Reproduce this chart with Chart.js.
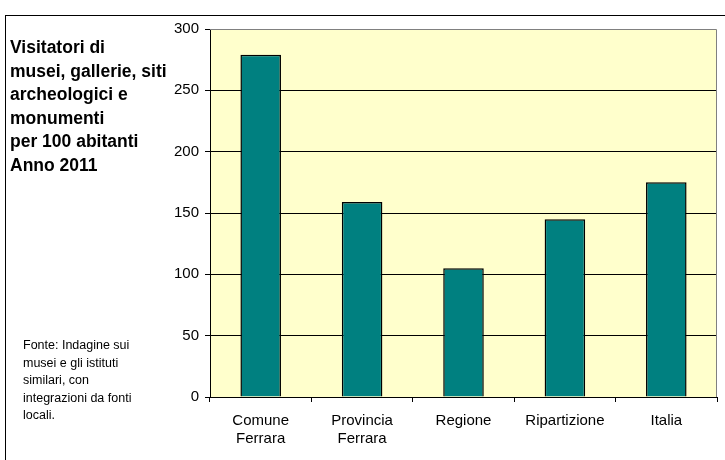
<!DOCTYPE html>
<html>
<head>
<meta charset="utf-8">
<script src="https://cdn.jsdelivr.net/npm/chart.js@4"></script>
<style>
  body { margin: 0; background: #fff; }
  #wrap { position: relative; width: 725px; height: 460px; overflow: hidden; }
  #frame { position: absolute; left: 5px; top: 15px; width: 740px; height: 460px; border: 1.5px solid #000; }
  #title { position: absolute; left: 10px; top: 36px; font: bold 17.5px "Liberation Sans", Arial, sans-serif; line-height: 23.6px; color: #000; }
  #note { position: absolute; left: 23px; top: 337px; font: 12.5px "Liberation Sans", Arial, sans-serif; line-height: 17.6px; color: #000; }
  canvas { position: absolute; left: 0; top: 0; }
</style>
</head>
<body>
<div id="wrap">
  <div id="frame"></div>
  <canvas id="chart" width="725" height="460"></canvas>
  <div id="title">Visitatori di<br>musei, gallerie, siti<br>archeologici e<br>monumenti<br>per 100 abitanti<br>Anno 2011</div>
  <div id="note">Fonte: Indagine sui<br>musei e gli istituti<br>similari, con<br>integrazioni da fonti<br>locali.</div>
</div>
<script>
// categories and values (visitors per 100 inhabitants)
const categories = [["Comune", "Ferrara"], ["Provincia", "Ferrara"], "Regione", "Ripartizione", "Italia"];
const visitors = [279, 159, 105, 145, 175];
const yTicks = [0, 50, 100, 150, 200, 250, 300];

//pale yellow plot background with grey top/right edge
const plotBackground = {
    id: "plotBackground",
    beforeDraw(chart) {
        const { ctx, chartArea: a } = chart;
        ctx.save();
        ctx.fillStyle = "#FFFFCC";
        ctx.fillRect(a.left, a.top, a.right - a.left, a.bottom - a.top);
        ctx.restore();
    },
    afterDatasetsDraw(chart) {
        const { ctx, chartArea: a } = chart;
        ctx.save();
        ctx.strokeStyle = "#808080";
        ctx.lineWidth = 1;
        ctx.beginPath();
        ctx.moveTo(a.left, a.top + 0.5);
        ctx.lineTo(a.right - 0.5, a.top + 0.5);
        ctx.lineTo(a.right - 0.5, a.bottom);
        ctx.stroke();
        ctx.restore();
    }
};

const tickFont = { family: "Liberation Sans", size: 15 };

new Chart(document.getElementById("chart"), {
    type: "bar",
    plugins: [plotBackground],
    data: {
        labels: categories,
        datasets: [{
            data: visitors,
            backgroundColor: "#008080",
            borderColor: "#000",
            borderWidth: 1.5,
            barPercentage: 0.4,
            categoryPercentage: 1
        }]
    },
    options: {
        responsive: false,
        animation: false,
        layout: { padding: { left: 170, right: 8, top: 29, bottom: 0 } },
        plugins: { legend: { display: false }, tooltip: { enabled: false } },
        scales: {
            x: {
                afterFit: s => { s.height = 63; },
                grid: { offset: true, drawOnChartArea: false, drawTicks: true, tickLength: 5, color: "#000" },
                border: { color: "#000", width: 1 },
                ticks: { color: "#000", padding: 10, font: tickFont }
            },
            y: {
                min: 0,
                max: 300,
                afterFit: s => { s.width = 40; },
                afterBuildTicks: s => { s.ticks = yTicks.map(v => ({ value: v })); },
                grid: {
                    color: ctx => ctx.tick && ctx.tick.value === 300 ? "rgba(0,0,0,0)" : "#000",
                    drawTicks: true,
                    tickLength: 5,
                    tickColor: "#000"
                },
                border: { color: "#000", width: 1 },
                ticks: { color: "#000", padding: 6, font: tickFont }
            }
        }
    }
});
</script>
</body>
</html>
